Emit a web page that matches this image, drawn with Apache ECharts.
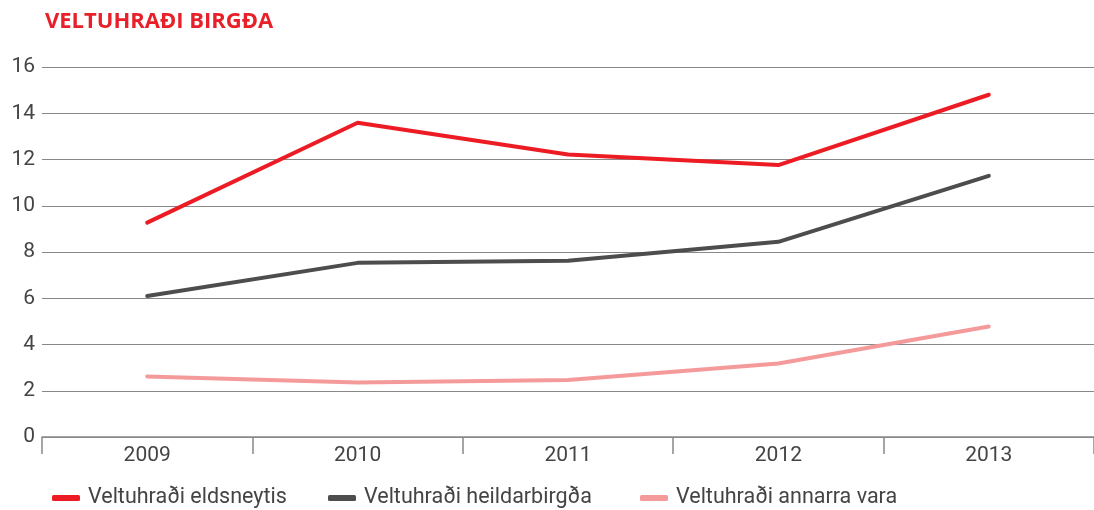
<!DOCTYPE html>
<html lang="is">
<head>
    <meta charset="utf-8">
    <title>Veltuhraði birgða</title>
    <script src="https://cdn.jsdelivr.net/npm/echarts@6/dist/echarts.min.js"></script>
    <style>
        html, body { margin: 0; padding: 0; background: #fff; }
        #chart { width: 1094px; height: 510px; }
    </style>
</head>
<body>
<div id="chart"></div>
<script>
    // gögn lesin af myndinni
    let years = ['2009', '2010', '2011', '2012', '2013'];
    let eldsneyti = [9.27, 13.59, 12.22, 11.76, 14.8];
    let heildarbirgdir = [6.1, 7.53, 7.62, 8.44, 11.29];
    let annad = [2.62, 2.36, 2.46, 3.18, 4.78];
    let seriesNames = ['Veltuhraði eldsneytis', 'Veltuhraði heildarbirgða', 'Veltuhraði annarra vara'];
    let colors = ['#ed1c24', '#4d4d4d', '#f49a9a'];

    let chart = echarts.init(document.getElementById('chart'));

    function makeLine(name, data, color) {
        return {
            name: name,
            type: 'line',
            data: data,
            symbol: 'none',
            lineStyle: { color: color, width: 4, cap: 'round', join: 'round' },
            itemStyle: { color: color }
        };
    }

    // ein skýring fyrir hverja línu svo staðsetning passi
    let legendLeft = [52, 328, 640];
    let legends = seriesNames.map(function (name, i) {
        return {
            left: legendLeft[i],
            top: 487,
            padding: 0,
            itemWidth: 28,
            itemHeight: 6,
            icon: 'roundRect',
            textStyle: { color: '#444', fontSize: 21.5, padding: [0, 0, 0, 3] },
            data: [name]
        };
    });

    let option = {
        animation: false,
        textStyle: { fontFamily: 'Roboto, sans-serif' },
        title: {
            text: 'VELTUHRAÐI BIRGÐA',
            left: 40,
            top: 6,
            textStyle: { color: '#e8202a', fontSize: 22, fontWeight: 'bold', fontFamily: 'Open Sans, sans-serif' }
        },
        legend: legends,
        grid: { left: 42, right: 0, top: 67, bottom: 73 },
        xAxis: {
            type: 'category',
            data: years,
            boundaryGap: true,
            axisLine: { lineStyle: { color: '#888', width: 1.5 } },
            axisTick: { show: true, length: 17, lineStyle: { color: '#888', width: 1.5 } },
            axisLabel: { color: '#444', fontSize: 21, margin: 8 }
        },
        yAxis: {
            type: 'value',
            min: 0,
            max: 16,
            interval: 2,
            axisLine: { show: false },
            axisTick: { show: false },
            axisLabel: { color: '#444', fontSize: 21, margin: 7 },
            splitLine: { lineStyle: { color: '#888', width: 1.2 } }
        },
        series: [
            makeLine(seriesNames[0], eldsneyti, colors[0]),
            makeLine(seriesNames[1], heildarbirgdir, colors[1]),
            makeLine(seriesNames[2], annad, colors[2])
        ]
    };

    chart.setOption(option);
</script>
</body>
</html>
